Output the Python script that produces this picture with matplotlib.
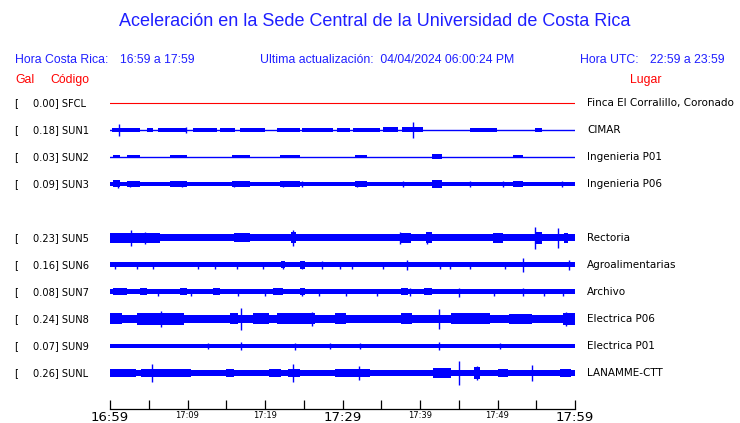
import numpy as np
import matplotlib.pyplot as plt
import matplotlib.transforms as mtransforms

# station data
codes = ['SFCL', 'SUN1', 'SUN2', 'SUN3', 'SUN5', 'SUN6', 'SUN7', 'SUN8', 'SUN9', 'SUNL']
gal = [0.00, 0.18, 0.03, 0.09, 0.23, 0.16, 0.08, 0.24, 0.07, 0.26]
places = ['Finca El Corralillo, Coronado', 'CIMAR', 'Ingenieria P01', 'Ingenieria P06',
          'Rectoria', 'Agroalimentarias', 'Archivo', 'Electrica P06', 'Electrica P01',
          'LANAMME-CTT']
rows = [0, 1, 2, 3, 5, 6, 7, 8, 9, 10]

# trace envelope (pixel half-amplitude), bursts (start min, end min, amp), spikes (min, amp)
base_amp = [0, 0.5, 0.5, 2, 3.5, 2.5, 2.5, 4, 2, 2.5]
bursts = {
    'SUN1': [(0.3, 3.9, 2), (4.8, 5.6, 2), (6.2, 9.9, 2), (10.7, 13.8, 2), (14.2, 16.1, 2),
             (16.8, 20.0, 2), (21.5, 24.5, 2), (24.8, 28.8, 2), (29.3, 31.0, 2), (31.4, 34.8, 2),
             (35.2, 37.2, 2.5), (37.7, 40.4, 2.5), (46.5, 49.9, 2), (54.8, 55.7, 2)],
    'SUN2': [(0.4, 1.3, 1.5), (2.2, 3.9, 1.5), (7.7, 9.9, 1.5), (15.7, 18.1, 1.5),
             (21.9, 24.5, 1.5), (31.6, 33.2, 1.5), (41.5, 42.8, 2.5), (52.0, 53.3, 1.5)],
    'SUN3': [(0.4, 1.3, 3.5), (2.2, 3.9, 3), (7.7, 9.9, 3), (15.7, 18.1, 3), (21.9, 24.5, 3),
             (31.6, 33.2, 3), (41.5, 42.8, 4), (52.0, 53.3, 3)],
    'SUN5': [(0.0, 6.5, 5), (16.0, 18.0, 4.5), (23.4, 24.0, 5.5), (37.5, 38.8, 5),
             (40.8, 41.5, 5.5), (49.4, 50.7, 5), (54.9, 55.8, 6), (58.6, 59.1, 5)],
    'SUN6': [(22.0, 22.6, 3.5), (24.5, 25.2, 4)],
    'SUN7': [(0.4, 2.2, 3.5), (3.9, 4.8, 3.5), (9.0, 9.9, 3.5), (13.3, 14.2, 3.5),
             (21.0, 22.3, 3.5), (24.5, 25.2, 3.5), (37.5, 38.5, 3.5), (40.5, 41.5, 3.5)],
    'SUN8': [(0.0, 1.5, 5.5), (3.5, 9.5, 6), (15.5, 16.5, 5.5), (18.5, 20.5, 5.5),
             (21.5, 26.5, 5.5), (29.0, 30.5, 5.5), (37.5, 39.0, 5.5), (44.0, 49.0, 5.5),
             (51.5, 54.5, 5), (58.5, 60.0, 6)],
    'SUN9': [],
    'SUNL': [(0.0, 3.3, 4), (4.0, 10.5, 4.5), (15.0, 16.0, 4), (20.5, 22.0, 4), (23.0, 24.5, 4),
             (29.0, 33.5, 4.5), (41.7, 44.0, 5), (47.0, 47.8, 5.5), (50.0, 51.3, 4),
             (58.0, 59.5, 4)],
}
spikes = {
    'SUN1': [(1.2, 6), (9.8, 3), (39.1, 8)],
    'SUN2': [],
    'SUN3': [(1.0, 4), (2.6, 3), (9.3, 3), (16.0, 3), (22.3, 3), (24.8, 3), (31.9, 3),
             (37.8, 3), (46.5, 3), (50.7, 3), (58.3, 3)],
    'SUN5': [(2.7, 8), (4.5, 6), (23.6, 8), (37.4, 6), (40.9, 6), (54.8, 11), (57.8, 10)],
    'SUN6': [(0.6, 3.5), (3.5, 3.5), (5.6, 3.5), (11.3, 3.5), (13.5, 3.5), (16.4, 3.5),
             (19.7, 3.5), (22.3, 4), (24.8, 4), (27.3, 4), (29.7, 3.5), (31.2, 3.5),
             (35.2, 3.5), (38.3, 4.5), (42.6, 3.5), (43.9, 3.5), (46.5, 3.5), (51.0, 3.5),
             (53.3, 7), (59.2, 5)],
    'SUN7': [(6.2, 3.5), (10.5, 3.5), (16.5, 3.5), (20.0, 3.5), (24.8, 4), (27.0, 3.5),
             (30.5, 3.5), (34.5, 3.5), (38.7, 4), (45.0, 4.5), (49.5, 3.5), (53.3, 4),
             (56.0, 3.5), (58.5, 3.5)],
    'SUN8': [(6.6, 8), (16.9, 11), (26.1, 7), (42.5, 10), (58.8, 7)],
    'SUN9': [(12.6, 3), (16.9, 4), (23.9, 3.5), (28.4, 3), (32.3, 3), (42.5, 4), (50.3, 3)],
    'SUNL': [(5.4, 9), (23.6, 9), (32.1, 7), (45.0, 12), (47.4, 7), (54.5, 8)],
}

tick_minutes = list(range(0, 61, 5))
tick_labels = ['16:59', '', '17:09', '', '17:19', '', '17:29', '', '17:39', '', '17:49', '', '17:59']
big_labels = ['16:59', '17:29', '17:59']

BLUE = '#0000ff'
TXT_BLUE = '#1f1fff'
SCALE = 27.0  # pixels per row

fig = plt.figure(figsize=(7.4, 4.23), dpi=100)
ax = fig.add_axes([110 / 740, (423 - 409) / 423, 465 / 740, 319 / 423])
ax.set_xlim(0, 60)
ax.set_ylim((409 - 103) / SCALE, (90 - 103) / SCALE)

for i, code in enumerate(codes):
    y = rows[i]
    if code == 'SFCL':
        ax.plot([0, 60], [y, y], color='red', lw=0.8)
        continue
    b = base_amp[i] / SCALE
    if base_amp[i] <= 0.5:
        ax.plot([0, 60], [y, y], color=BLUE, lw=1.0)
    else:
        ax.fill_between([0, 60], y - b, y + b, color=BLUE, lw=0)
    for s, e, a in bursts[code]:
        ax.fill_between([s, e], y - a / SCALE, y + a / SCALE, color=BLUE, lw=0)
    for m, a in spikes[code]:
        ax.vlines(m, y - a / SCALE, y + a / SCALE, color=BLUE, lw=1.0)

for side in ['top', 'left', 'right']:
    ax.spines[side].set_visible(False)
ax.spines['bottom'].set_linewidth(0.9)
ax.set_yticks([])
ax.set_xticks(tick_minutes)
ax.set_xticklabels(tick_labels)
ax.tick_params(axis='x', direction='in', length=6.5, width=0.9, pad=1.5)
for lbl in ax.get_xticklabels():
    lbl.set_fontsize(9.5 if lbl.get_text() in big_labels else 6)

# left and right labels aligned with rows
tr = mtransforms.blended_transform_factory(fig.transFigure, ax.transData)
for i, code in enumerate(codes):
    y = rows[i]
    ax.text(14 / 740, y, '[', transform=tr, fontsize=7.3, va='center', ha='left')
    ax.text(33 / 740, y, f'{gal[i]:.2f}] {code}', transform=tr, fontsize=7.1, va='center', ha='left')
    ax.text(587 / 740, y, places[i], transform=tr, fontsize=7.5, va='center', ha='left')

# header
hf = 'Liberation Sans'
fig.text(375 / 740, 1 - 21 / 423, 'Aceleración en la Sede Central de la Universidad de Costa Rica',
         ha='center', va='center', fontsize=13, color=TXT_BLUE, family=hf)
fig.text(15 / 740, 1 - 60 / 423, 'Hora Costa Rica:', ha='left', va='center', fontsize=8.8, color=TXT_BLUE, family=hf)
fig.text(120 / 740, 1 - 60 / 423, '16:59 a 17:59', ha='left', va='center', fontsize=8.8, color=TXT_BLUE, family=hf)
fig.text(260 / 740, 1 - 60 / 423, 'Ultima actualización:  04/04/2024 06:00:24 PM', ha='left', va='center',
         fontsize=8.8, color=TXT_BLUE, family=hf)
fig.text(580 / 740, 1 - 60 / 423, 'Hora UTC:', ha='left', va='center', fontsize=8.8, color=TXT_BLUE, family=hf)
fig.text(650 / 740, 1 - 60 / 423, '22:59 a 23:59', ha='left', va='center', fontsize=8.8, color=TXT_BLUE, family=hf)
fig.text(15 / 740, 1 - 80 / 423, 'Gal', ha='left', va='center', fontsize=8.8, color='red', family=hf)
fig.text(50 / 740, 1 - 80 / 423, 'Código', ha='left', va='center', fontsize=8.8, color='red', family=hf)
fig.text(630 / 740, 1 - 80 / 423, 'Lugar', ha='left', va='center', fontsize=8.8, color='red', family=hf)

fig.savefig('out.png', dpi=100)
